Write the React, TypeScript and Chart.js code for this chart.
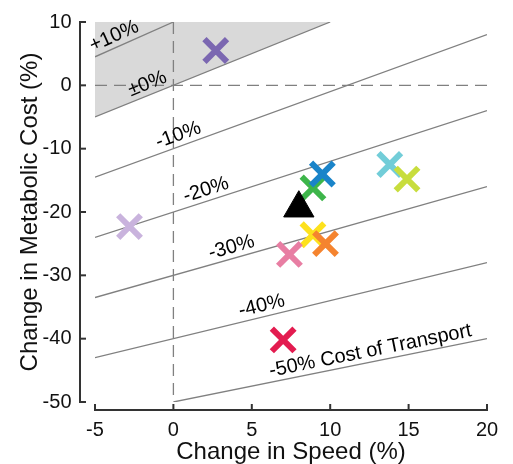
import React, { useEffect, useRef } from 'react';
import { Chart, registerables } from 'chart.js';
Chart.register(...registerables);

// Individual subjects (change in speed %, change in metabolic cost %)
const speedChange = [2.7, -2.8, 13.8, 14.9, 8.9, 9.5, 8.9, 9.7, 7.4, 7.0];
const metabolicChange = [5.5, -22.3, -12.5, -14.8, -16.2, -14.0, -23.6, -25.0, -26.7, -40.2];
const markerColors = ['#7b67b1', '#c9b3dd', '#72cdd8', '#c8dd3d', '#3db54a', '#1a84c9', '#fde11d', '#f5842f', '#e87ea3', '#e31c50'];
// Group mean
const meanSpeed = [8.0];
const meanMetabolic = [-19.4];

// Iso cost-of-transport lines
const cotLevels = [10, 0, -10, -20, -30, -40, -50];
const cotLabels = ['+10%', '±0%', '-10%', '-20%', '-30%', '-40%', '-50% Cost of Transport'];
const cotStartX = [-5, -5, -5, -5, -5, -5, 0];
const cotEndX = [0, 10, 20, 20, 20, 20, 20];
const cotLabelX = [-3.5, -1.4, 0.55, 2.3, 3.9, 5.8, 12.7];

// Shaded region (cost of transport increased)
const shadeX = [-5, 10, -5];
const shadeY = [-5, 10, 10];

const xTicks = [-5, 0, 5, 10, 15, 20];
const yTicks = [10, 0, -10, -20, -30, -40, -50];

const FONT = 'Liberation Sans, Arial, Helvetica, sans-serif';
const LINE_GRAY = '#808080';

const cotY = (level: number, x: number) => ((100 + level) * (100 + x)) / 100 - 100;

const axesPlugin = {
  id: 'offsetAxes',
  afterDraw(chart: any) {
    const { ctx, chartArea, scales } = chart;
    const xs = scales.x;
    const ys = scales.y;
    ctx.save();
    ctx.strokeStyle = '#333333';
    ctx.lineWidth = 2;
    const sx = chartArea.left - 15;
    const sy = chartArea.bottom + 8;
    // left spine
    ctx.beginPath();
    ctx.moveTo(sx, ys.getPixelForValue(10));
    ctx.lineTo(sx, ys.getPixelForValue(-50));
    ctx.stroke();
    yTicks.forEach((t) => {
      const p = ys.getPixelForValue(t);
      ctx.beginPath();
      ctx.moveTo(sx - 1, p);
      ctx.lineTo(sx + 6, p);
      ctx.stroke();
    });
    // bottom spine
    ctx.beginPath();
    ctx.moveTo(xs.getPixelForValue(-5), sy);
    ctx.lineTo(xs.getPixelForValue(20), sy);
    ctx.stroke();
    xTicks.forEach((t) => {
      const p = xs.getPixelForValue(t);
      ctx.beginPath();
      ctx.moveTo(p, sy + 1);
      ctx.lineTo(p, sy - 6);
      ctx.stroke();
    });
    ctx.restore();
  },
};

const labelPlugin = {
  id: 'cotLabels',
  afterDatasetsDraw(chart: any) {
    const { ctx, scales } = chart;
    const xs = scales.x;
    const ys = scales.y;
    ctx.save();
    ctx.fillStyle = '#000';
    ctx.font = `20px ${FONT}`;
    ctx.textAlign = 'center';
    ctx.textBaseline = 'middle';
    cotLevels.forEach((lvl, i) => {
      const x1 = xs.getPixelForValue(cotStartX[i]);
      const y1 = ys.getPixelForValue(cotY(lvl, cotStartX[i]));
      const x2 = xs.getPixelForValue(cotEndX[i]);
      const y2 = ys.getPixelForValue(cotY(lvl, cotEndX[i]));
      const a = Math.atan2(y2 - y1, x2 - x1);
      const px = xs.getPixelForValue(cotLabelX[i]);
      const py = ys.getPixelForValue(cotY(lvl, cotLabelX[i]));
      const off = 11;
      const cx = px + Math.sin(a) * off;
      const cy = py - Math.cos(a) * off;
      ctx.save();
      ctx.translate(cx, cy);
      ctx.rotate(a);
      ctx.fillText(cotLabels[i], 0, 0);
      ctx.restore();
    });
    ctx.restore();
  },
};

export default function App() {
  const ref = useRef<HTMLCanvasElement>(null);
  useEffect(() => {
    if (!ref.current) return;
    const lineSets = cotLevels.map((lvl, i) => ({
      type: 'scatter' as const,
      data: [
        { x: cotStartX[i], y: cotY(lvl, cotStartX[i]) },
        { x: cotEndX[i], y: cotY(lvl, cotEndX[i]) },
      ],
      showLine: true,
      borderColor: LINE_GRAY,
      borderWidth: 1.3,
      pointRadius: 0,
      order: 5,
    }));
    const chart = new Chart(ref.current, {
      type: 'scatter',
      data: {
        datasets: [
          {
            data: meanSpeed.map((x, i) => ({ x, y: meanMetabolic[i] })),
            pointStyle: 'triangle',
            pointRadius: 17.5,
            backgroundColor: '#000',
            borderColor: '#000',
            borderWidth: 1,
            order: 0,
          } as any,
          {
            data: speedChange.map((x, i) => ({ x, y: metabolicChange[i] })),
            pointStyle: 'crossRot',
            pointRadius: 16,
            borderWidth: 6,
            borderColor: markerColors,
            backgroundColor: markerColors,
            order: 1,
          },
          ...lineSets,
          {
            data: [{ x: 0, y: 10 }, { x: 0, y: -50 }],
            showLine: true,
            borderColor: LINE_GRAY,
            borderWidth: 1.3,
            borderDash: [12, 7],
            pointRadius: 0,
            order: 6,
          },
          {
            data: [{ x: -5, y: 0 }, { x: 20, y: 0 }],
            showLine: true,
            borderColor: LINE_GRAY,
            borderWidth: 1.3,
            borderDash: [12, 7],
            pointRadius: 0,
            order: 6,
          },
          {
            data: shadeX.map((x, i) => ({ x, y: shadeY[i] })),
            showLine: true,
            fill: 'shape',
            backgroundColor: '#d9d9d9',
            borderWidth: 0,
            pointRadius: 0,
            order: 10,
          } as any,
        ],
      },
      options: {
        responsive: false,
        animation: false,
        events: [],
        layout: { padding: { left: 0, right: 26, top: 19, bottom: 0 } },
        plugins: { legend: { display: false }, tooltip: { enabled: false } },
        scales: {
          x: {
            type: 'linear',
            min: -5,
            max: 20,
            afterFit: (s: any) => { s.height = 62; s.paddingLeft = 0; s.paddingRight = 0; },
            afterBuildTicks: (s: any) => { s.ticks = xTicks.map((v) => ({ value: v })); },
            grid: { display: false, drawTicks: false },
            border: { display: false },
            ticks: { autoSkip: false, padding: 16, color: '#111', font: { family: FONT, size: 20 } },
            title: {
              display: true,
              text: 'Change in Speed (%)',
              color: '#111',
              font: { family: FONT, size: 24, lineHeight: 1 },
              padding: { top: 0, bottom: 0 },
            },
          },
          y: {
            type: 'linear',
            min: -50,
            max: 10,
            afterFit: (s: any) => { s.width = 95; s.paddingTop = 0; s.paddingBottom = 0; },
            afterBuildTicks: (s: any) => { s.ticks = yTicks.map((v) => ({ value: v })); },
            grid: { display: false, drawTicks: false },
            border: { display: false },
            ticks: { autoSkip: false, padding: 23.5, color: '#111', font: { family: FONT, size: 20 } },
            title: {
              display: true,
              text: 'Change in Metabolic Cost (%)',
              color: '#111',
              font: { family: FONT, size: 24, lineHeight: 1 },
              padding: { top: 18, bottom: 0 },
            },
          },
        },
      },
      plugins: [axesPlugin, labelPlugin],
    });
    return () => chart.destroy();
  }, []);
  return (
    <div style={{ position: 'fixed', left: 0, top: 0, width: 513, height: 464, background: '#fff' }}>
      <canvas ref={ref} width={513} height={464} />
    </div>
  );
}
